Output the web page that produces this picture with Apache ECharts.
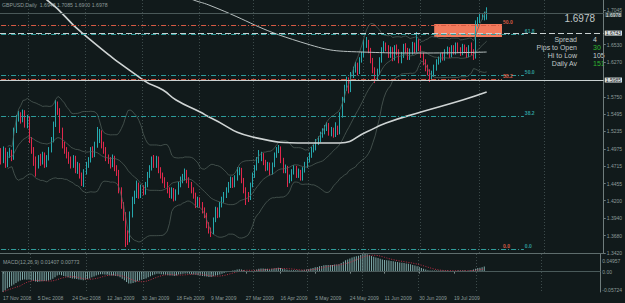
<!DOCTYPE html>
<html><head><meta charset="utf-8">
<script src="https://cdn.jsdelivr.net/npm/echarts@6/dist/echarts.min.js"></script>
<style>html,body{margin:0;padding:0;background:#111a1b;}#c{width:625px;height:303px;}</style>
</head><body><div id="c"></div>
<script>
// ---------- data ----------
const symbolTitle = 'GBPUSD,Daily';
const dateLabels = ['17 Nov 2008','5 Dec 2008','24 Dec 2008','12 Jan 2009','30 Jan 2009','18 Feb 2009','9 Mar 2009','27 Mar 2009','16 Apr 2009','5 May 2009','24 May 2009','11 Jun 2009','30 Jun 2009','19 Jul 2009'];
const dateLabelIdx = [0,16,32,48,64,80,96,112,128,144,160,176,192,208];
const monthStartIdx = [13,39,65,91,116,141,166,192,219,249];
const slotCount = 276;
const priceTicks = [1.7045,1.6530,1.6270,1.5750,1.5495,1.5235,1.4975,1.4715,1.4455,1.4200,1.3940,1.3680,1.3420];
const macdTicks = [-0.05724,0,0.04957];
// [open, high, low, close]
const ohlc = [
[1.4900,1.4985,1.4740,1.4807],[1.4807,1.5010,1.4760,1.4956],[1.4956,1.4990,1.4690,1.4732],[1.4732,1.4930,1.4700,1.4882],[1.4882,1.4990,1.4840,1.4926],
[1.4926,1.4960,1.4790,1.4837],[1.4837,1.5290,1.4810,1.5255],[1.5255,1.5480,1.5210,1.5434],[1.5434,1.5540,1.5380,1.5478],[1.5478,1.5520,1.5350,1.5404],
[1.5404,1.5560,1.5370,1.5523],[1.5523,1.5550,1.5290,1.5329],[1.5329,1.5480,1.5280,1.5434],[1.5434,1.5460,1.5060,1.5105],[1.5105,1.5150,1.4900,1.4956],
[1.4956,1.5000,1.4720,1.4807],[1.4807,1.4860,1.4560,1.4732],[1.4732,1.4880,1.4680,1.4837],[1.4837,1.4900,1.4720,1.4777],[1.4777,1.4930,1.4740,1.4882],
[1.4882,1.4920,1.4690,1.4732],[1.4732,1.4880,1.4700,1.4837],[1.4837,1.5000,1.4800,1.4956],[1.4956,1.5150,1.4920,1.5105],[1.5105,1.5380,1.5070,1.5329],
[1.5329,1.5702,1.5300,1.5628],[1.5628,1.5680,1.5480,1.5553],[1.5553,1.5580,1.5210,1.5255],[1.5255,1.5290,1.4980,1.5031],[1.5031,1.5080,1.4900,1.4956],
[1.4956,1.5000,1.4830,1.4882],[1.4882,1.4930,1.4750,1.4807],[1.4807,1.4860,1.4680,1.4732],[1.4732,1.4880,1.4690,1.4837],[1.4837,1.4870,1.4610,1.4658],
[1.4658,1.4780,1.4600,1.4732],[1.4732,1.4760,1.4530,1.4583],[1.4583,1.4620,1.4420,1.4509],[1.4509,1.4670,1.4404,1.4628],[1.4628,1.4780,1.4590,1.4732],
[1.4732,1.4850,1.4690,1.4807],[1.4807,1.5000,1.4770,1.4956],[1.4956,1.5010,1.4840,1.4882],[1.4882,1.5080,1.4850,1.5031],[1.5031,1.5300,1.4990,1.5105],
[1.5105,1.5270,1.5060,1.5225],[1.5225,1.5250,1.4980,1.5031],[1.5031,1.5080,1.4900,1.4956],[1.4956,1.5000,1.4790,1.4837],[1.4837,1.4890,1.4750,1.4807],
[1.4807,1.4850,1.4680,1.4732],[1.4732,1.4890,1.4700,1.4837],[1.4837,1.4870,1.4640,1.4688],[1.4688,1.4730,1.4570,1.4628],[1.4628,1.4660,1.4310,1.4359],
[1.4359,1.4400,1.4080,1.4136],[1.4136,1.4180,1.3900,1.3986],[1.3986,1.4030,1.3509,1.3688],[1.3688,1.3760,1.3540,1.3613],[1.3613,1.4040,1.3580,1.3986],
[1.3986,1.4260,1.3950,1.4210],[1.4210,1.4350,1.4150,1.4285],[1.4285,1.4500,1.4240,1.4434],[1.4434,1.4470,1.4230,1.4285],[1.4285,1.4440,1.4240,1.4389],
[1.4389,1.4430,1.4280,1.4330],[1.4330,1.4480,1.4290,1.4434],[1.4434,1.4630,1.4400,1.4583],[1.4583,1.4730,1.4540,1.4688],[1.4688,1.4860,1.4650,1.4807],
[1.4807,1.4882,1.4690,1.4732],[1.4732,1.4870,1.4690,1.4837],[1.4837,1.4860,1.4610,1.4658],[1.4658,1.4700,1.4530,1.4583],[1.4583,1.4620,1.4460,1.4509],
[1.4509,1.4550,1.4390,1.4434],[1.4434,1.4480,1.4310,1.4359],[1.4359,1.4400,1.4240,1.4285],[1.4285,1.4400,1.4230,1.4359],[1.4359,1.4390,1.4190,1.4240],
[1.4240,1.4370,1.4200,1.4330],[1.4330,1.4480,1.4290,1.4434],[1.4434,1.4560,1.4400,1.4509],[1.4509,1.4600,1.4460,1.4538],[1.4538,1.4680,1.4500,1.4628],
[1.4628,1.4660,1.4460,1.4509],[1.4509,1.4550,1.4390,1.4434],[1.4434,1.4480,1.4310,1.4359],[1.4359,1.4400,1.4230,1.4285],[1.4285,1.4320,1.4090,1.4136],
[1.4136,1.4260,1.4100,1.4210],[1.4210,1.4250,1.4090,1.4136],[1.4136,1.4180,1.4010,1.4061],[1.4061,1.4100,1.3940,1.3986],[1.3986,1.4020,1.3790,1.3837],
[1.3837,1.3880,1.3710,1.3763],[1.3763,1.3800,1.3658,1.3733],[1.3733,1.3950,1.3700,1.3912],[1.3912,1.4110,1.3880,1.4061],[1.4061,1.4100,1.3940,1.3986],
[1.3986,1.4180,1.3950,1.4136],[1.4136,1.4260,1.4100,1.4210],[1.4210,1.4330,1.4170,1.4285],[1.4285,1.4400,1.4240,1.4359],[1.4359,1.4480,1.4320,1.4434],
[1.4434,1.4560,1.4390,1.4509],[1.4509,1.4550,1.4390,1.4434],[1.4434,1.4580,1.4400,1.4538],[1.4538,1.4700,1.4500,1.4628],[1.4628,1.4700,1.4580,1.4658],
[1.4658,1.4690,1.4460,1.4509],[1.4509,1.4540,1.4310,1.4359],[1.4359,1.4400,1.4136,1.4285],[1.4285,1.4330,1.4180,1.4240],[1.4240,1.4470,1.4210,1.4434],
[1.4434,1.4620,1.4400,1.4583],[1.4583,1.4730,1.4540,1.4688],[1.4688,1.4850,1.4650,1.4807],[1.4807,1.4956,1.4760,1.4837],[1.4837,1.4930,1.4790,1.4882],
[1.4882,1.4910,1.4730,1.4777],[1.4777,1.4810,1.4640,1.4688],[1.4688,1.4780,1.4650,1.4732],[1.4732,1.4770,1.4580,1.4628],[1.4628,1.4770,1.4590,1.4732],
[1.4732,1.4920,1.4700,1.4882],[1.4882,1.5000,1.4840,1.4956],[1.4956,1.5031,1.4910,1.4986],[1.4986,1.5010,1.4760,1.4807],[1.4807,1.4840,1.4610,1.4658],
[1.4658,1.4740,1.4610,1.4688],[1.4688,1.4720,1.4404,1.4509],[1.4509,1.4590,1.4460,1.4538],[1.4538,1.4670,1.4490,1.4628],[1.4628,1.4730,1.4590,1.4688],
[1.4688,1.4720,1.4540,1.4583],[1.4583,1.4680,1.4540,1.4628],[1.4628,1.4660,1.4500,1.4538],[1.4538,1.4700,1.4500,1.4658],[1.4658,1.4780,1.4620,1.4732],
[1.4732,1.4850,1.4690,1.4807],[1.4807,1.4920,1.4770,1.4882],[1.4882,1.5000,1.4840,1.4956],[1.4956,1.5040,1.4920,1.4986],[1.4986,1.5120,1.4950,1.5075],
[1.5075,1.5160,1.5030,1.5105],[1.5105,1.5230,1.5070,1.5180],[1.5180,1.5280,1.5140,1.5225],[1.5225,1.5330,1.5190,1.5285],[1.5285,1.5370,1.5240,1.5329],
[1.5329,1.5360,1.5170,1.5210],[1.5210,1.5300,1.5160,1.5255],[1.5255,1.5290,1.5140,1.5180],[1.5180,1.5370,1.5150,1.5285],[1.5285,1.5320,1.5180,1.5225],
[1.5225,1.5520,1.5190,1.5478],[1.5478,1.5750,1.5440,1.5702],[1.5702,1.5930,1.5660,1.5881],[1.5881,1.6050,1.5840,1.6000],[1.6000,1.6040,1.5800,1.5851],
[1.5851,1.6120,1.5820,1.6075],[1.6075,1.6200,1.6030,1.6150],[1.6150,1.6270,1.6110,1.6224],[1.6224,1.6260,1.6070,1.6120],[1.6120,1.6340,1.6090,1.6299],
[1.6299,1.6420,1.6260,1.6373],[1.6373,1.6600,1.6340,1.6523],[1.6523,1.6642,1.6480,1.6567],[1.6567,1.6600,1.6400,1.6448],[1.6448,1.6480,1.6250,1.6299],
[1.6299,1.6330,1.6100,1.6150],[1.6150,1.6190,1.5955,1.6030],[1.6030,1.6170,1.5990,1.6120],[1.6120,1.6340,1.6080,1.6299],[1.6299,1.6490,1.6260,1.6448],
[1.6448,1.6580,1.6410,1.6523],[1.6523,1.6560,1.6430,1.6478],[1.6478,1.6520,1.6330,1.6373],[1.6373,1.6500,1.6330,1.6448],[1.6448,1.6490,1.6280,1.6329],
[1.6329,1.6520,1.6290,1.6478],[1.6478,1.6530,1.6370,1.6418],[1.6418,1.6460,1.6250,1.6299],[1.6299,1.6420,1.6250,1.6373],[1.6373,1.6540,1.6330,1.6493],
[1.6493,1.6550,1.6400,1.6448],[1.6448,1.6480,1.6300,1.6344],[1.6344,1.6470,1.6300,1.6418],[1.6418,1.6570,1.6380,1.6523],[1.6523,1.6560,1.6400,1.6448],
[1.6448,1.6717,1.6410,1.6567],[1.6567,1.6610,1.6430,1.6478],[1.6478,1.6510,1.6330,1.6373],[1.6373,1.6410,1.6220,1.6269],[1.6269,1.6310,1.6130,1.6180],
[1.6180,1.6230,1.6070,1.6120],[1.6120,1.6160,1.5970,1.6030],[1.6030,1.6140,1.5990,1.6090],[1.6090,1.6230,1.6050,1.6180],[1.6180,1.6310,1.6140,1.6269],
[1.6269,1.6350,1.6230,1.6299],[1.6299,1.6400,1.6260,1.6359],[1.6359,1.6410,1.6290,1.6329],[1.6329,1.6460,1.6290,1.6418],[1.6418,1.6500,1.6380,1.6448],
[1.6448,1.6490,1.6330,1.6373],[1.6373,1.6520,1.6340,1.6478],[1.6478,1.6520,1.6380,1.6418],[1.6418,1.6560,1.6380,1.6523],[1.6523,1.6560,1.6400,1.6448],
[1.6448,1.6490,1.6360,1.6403],[1.6403,1.6540,1.6370,1.6493],[1.6493,1.6530,1.6400,1.6448],[1.6448,1.6490,1.6330,1.6373],[1.6373,1.6520,1.6340,1.6478],
[1.6478,1.6560,1.6370,1.6418],[1.6418,1.6460,1.6300,1.6344],[1.6344,1.6890,1.6320,1.6851],[1.6851,1.6940,1.6800,1.6896],[1.6896,1.6990,1.6850,1.6930],
[1.6930,1.6980,1.6900,1.6940],[1.6940,1.7020,1.6890,1.6948],[1.6948,1.7085,1.6900,1.6978]
];
// MACD(12,26,9) main values
const macdMain = [
-0.0572,-0.0520,-0.0470,-0.0430,-0.0400,-0.0360,-0.0320,-0.0280,-0.0250,-0.0230,
-0.0220,-0.0230,-0.0220,-0.0240,-0.0260,-0.0280,-0.0290,-0.0280,-0.0270,-0.0260,
-0.0260,-0.0250,-0.0230,-0.0200,-0.0160,-0.0110,-0.0090,-0.0100,-0.0120,-0.0140,
-0.0160,-0.0180,-0.0190,-0.0200,-0.0210,-0.0220,-0.0230,-0.0240,-0.0230,-0.0210,
-0.0190,-0.0160,-0.0140,-0.0110,-0.0090,-0.0070,-0.0070,-0.0080,-0.0090,-0.0100,
-0.0110,-0.0110,-0.0120,-0.0130,-0.0160,-0.0200,-0.0240,-0.0290,-0.0330,-0.0330,
-0.0320,-0.0300,-0.0270,-0.0250,-0.0230,-0.0210,-0.0190,-0.0160,-0.0130,-0.0100,
-0.0080,-0.0060,-0.0060,-0.0070,-0.0080,-0.0090,-0.0100,-0.0110,-0.0110,-0.0120,
-0.0110,-0.0080,-0.0070,-0.0060,-0.0050,-0.0050,-0.0060,-0.0070,-0.0080,-0.0090,
-0.0100,-0.0110,-0.0120,-0.0130,-0.0140,-0.0150,-0.0150,-0.0130,-0.0110,-0.0100,
-0.0080,-0.0060,-0.0040,-0.0020,0.0000,0.0020,0.0030,0.0040,0.0060,0.0070,
0.0060,0.0040,0.0020,0.0010,0.0010,0.0020,0.0040,0.0060,0.0080,0.0090,
0.0090,0.0080,0.0080,0.0070,0.0080,0.0090,0.0100,0.0110,0.0100,0.0080,
0.0070,0.0050,0.0040,0.0040,0.0040,0.0040,0.0040,0.0030,0.0040,0.0050,
0.0060,0.0070,0.0090,0.0100,0.0120,0.0130,0.0150,0.0160,0.0180,0.0190,
0.0190,0.0190,0.0190,0.0200,0.0200,0.0210,0.0240,0.0280,0.0320,0.0340,
0.0370,0.0400,0.0420,0.0430,0.0450,0.0470,0.0490,0.0496,0.0490,0.0470,
0.0440,0.0420,0.0400,0.0380,0.0360,0.0340,0.0330,0.0320,0.0310,0.0300,
0.0290,0.0280,0.0270,0.0260,0.0250,0.0240,0.0230,0.0220,0.0210,0.0190,
0.0170,0.0150,0.0130,0.0100,0.0080,0.0060,0.0040,0.0030,0.0030,0.0030,
0.0030,0.0030,0.0030,0.0030,0.0030,0.0030,0.0020,0.0020,0.0020,0.0020,
0.0030,0.0030,0.0030,0.0030,0.0020,0.0030,0.0030,0.0060,0.0080,0.0100,
0.0110,0.0120,0.0141
];
const macdLegendValues = ['0.01407','0.00773'];
// long moving averages (read at sparse bars)
const maSlowIdx = [0,21,37,65,74,80,91,96,115,140,155,167,176,192,211,222];
const maSlowVal = [1.7600,1.7194,1.6702,1.6000,1.5851,1.5702,1.5523,1.5434,1.5150,1.5061,1.5061,1.5225,1.5359,1.5523,1.5702,1.5821];
const maLongIdx = [80,88,95,137,165,192,222];
const maLongVal = [1.7300,1.7194,1.7119,1.6567,1.6418,1.6403,1.6418];
// fibonacci levels
const fibRed = {endIdx:229, levels:[['50.0',1.6821],['38.2',1.6015],['0.0',1.3479]]};
const fibTeal = {endIdx:239, levels:[['61.8',1.6687],['50.0',1.6075],['38.2',1.5463],['0.0',1.3479]]};
const zone = {fromIdx:198, toIdx:229, top:1.6836, bottom:1.6642};
const hLineDashed = 1.6743;
const hLineSolid = 1.5985;
const bidPrice = 1.6978;
const infoBig = '1.6978';
const infoRows = [['Spread','4'],['Pips to Open','30'],['Hi to Low','105'],['Daily Av','151']];
const infoValueColors = ['#c8d0d0','#2fb52f','#c8d0d0','#2fb52f'];

// ---------- build ----------
const categories = [];
for (let i = 0; i < slotCount; i++) categories.push(String(i));
const closes = ohlc.map(r => r[3]);
const candleData = ohlc.map(r => [r[0], r[3], r[2], r[1]]);
function sparse(idx, val) { const a = new Array(ohlc.length).fill(null); idx.forEach((k, j) => a[k] = val[j]); return a; }
const bbU = [], bbM = [], bbL = [];
for (let i = 0; i < closes.length; i++) {
  const w = closes.slice(Math.max(0, i - 19), i + 1);
  if (w.length < 4) { bbU.push(null); bbM.push(null); bbL.push(null); continue; }
  const m = w.reduce((a, b) => a + b, 0) / w.length;
  const sd = Math.sqrt(w.reduce((a, b) => a + (b - m) * (b - m), 0) / w.length);
  bbU.push(m + 2 * sd); bbM.push(m); bbL.push(m - 2 * sd);
}
const macdSignal = macdMain.map((v, i) => { const w = macdMain.slice(Math.max(0, i - 8), i + 1); return w.reduce((a, b) => a + b, 0) / w.length; });

const FONT = 'Liberation Sans';
const txtCol = '#8d9a9a';
const dashDot = [5, 2, 1, 2];
function fibLines(f, color) {
  return f.levels.map(([lab, p]) => [
    { coord: [0, p], lineStyle: { color: color, type: dashDot, width: 1 },
      label: { show: true, position: 'end', formatter: lab, color: color, fontSize: 5, fontFamily: FONT, fontWeight: 'bold', distance: 1, offset: [0, -3] } },
    { coord: [f.endIdx, p] }
  ]);
}
function boxLine(p, lineColor, type, bg, fg, dy) {
  return { yAxis: p, lineStyle: { color: lineColor, type: type, width: 1 },
    label: { show: true, position: 'end', formatter: p.toFixed(4), backgroundColor: bg, color: fg, fontSize: 5, lineHeight: 5, fontFamily: FONT, padding: [0, 1, 0, 1], distance: 1, offset: [0, dy] } };
}
const last = ohlc[ohlc.length - 1];
const titleText = symbolTitle + '  ' + last.map(v => v.toFixed(4)).join(' ');

const graphics = [
  { type: 'text', left: 2, top: 2, style: { text: titleText, fill: txtCol, font: '5.2px ' + FONT } },
  { type: 'text', left: 3, top: 259, style: { text: 'MACD(12,26,9) ' + macdLegendValues.join(' '), fill: txtCol, font: '5.2px ' + FONT } },
  { type: 'text', right: 30, top: 13, style: { text: infoBig, fill: '#c0c8c8', font: '10px ' + FONT, align: 'right' } }
];
infoRows.forEach((r, k) => {
  graphics.push({ type: 'text', x: 577, y: 39 + k * 8.3, style: { text: r[0], fill: '#c0c8c8', font: '7px ' + FONT, textAlign: 'right', textVerticalAlign: 'middle' } });
  graphics.push({ type: 'text', x: 593, y: 39 + k * 8.3, style: { text: r[1], fill: infoValueColors[k], font: '7px ' + FONT, textAlign: 'left', textVerticalAlign: 'middle' } });
});

const gridLineStyle = { show: true, interval: (i) => monthStartIdx.includes(i), lineStyle: { color: '#3c4a4a', type: [1, 2], width: 1 } };
const chart = echarts.init(document.getElementById('c'), null, { renderer: 'svg' });
chart.setOption({
  backgroundColor: '#111a1b',
  animation: false,
  grid: [
    { left: 0, top: 0, width: 604, height: 253 },
    { left: 0, top: 254, width: 604, height: 38 }
  ],
  xAxis: [
    { type: 'category', gridIndex: 0, data: categories, boundaryGap: true,
      axisLine: { show: true, lineStyle: { color: '#5f6d6d' } }, axisTick: { show: false }, axisLabel: { show: false },
      splitLine: gridLineStyle },
    { type: 'category', gridIndex: 1, data: categories, boundaryGap: true,
      axisLine: { show: true, lineStyle: { color: '#5f6d6d' } },
      axisTick: { show: true, alignWithLabel: true, interval: (i) => dateLabelIdx.includes(i), length: 2, lineStyle: { color: '#7a8888' } },
      axisLabel: { show: true, interval: (i) => dateLabelIdx.includes(i), formatter: (v, i) => { const k = dateLabelIdx.indexOf(i); return k >= 0 ? dateLabels[k] : ''; },
        align: 'left', margin: 3, color: txtCol, fontSize: 5, fontFamily: FONT },
      splitLine: gridLineStyle }
  ],
  yAxis: [
    { type: 'value', gridIndex: 0, position: 'right', min: 1.3420, max: 1.7194, scale: true,
      axisLine: { show: true, lineStyle: { color: '#6f7c7c' } },
      axisTick: { show: true, length: 2, customValues: priceTicks, lineStyle: { color: '#6f7c7c' } },
      axisLabel: { customValues: priceTicks, formatter: v => v.toFixed(4), color: txtCol, fontSize: 5, lineHeight: 5, fontFamily: FONT, margin: 3 },
      splitLine: { show: false } },
    { type: 'value', gridIndex: 1, position: 'right', min: macdTicks[0], max: macdTicks[2],
      axisLine: { show: true, lineStyle: { color: '#6f7c7c' } },
      axisTick: { show: false },
      axisLabel: { customValues: macdTicks,
        formatter: v => v === 0 ? '0.00' : (v > 0 ? '{top|' + v.toFixed(5) + '}' : v.toFixed(5)),
        rich: { top: { padding: [4, 0, 0, 0], fontSize: 5, color: txtCol, fontFamily: FONT } },
        color: txtCol, fontSize: 5, fontFamily: FONT, margin: 2,
        verticalAlignMaxLabel: 'top', verticalAlignMinLabel: 'bottom' },
      splitLine: { show: false } }
  ],
  series: [
    { type: 'line', xAxisIndex: 0, yAxisIndex: 0, data: bbU, showSymbol: false, lineStyle: { color: '#56645f', width: 0.7 }, silent: true },
    { type: 'line', xAxisIndex: 0, yAxisIndex: 0, data: bbM, showSymbol: false, lineStyle: { color: '#56645f', width: 0.7 }, silent: true },
    { type: 'line', xAxisIndex: 0, yAxisIndex: 0, data: bbL, showSymbol: false, lineStyle: { color: '#56645f', width: 0.7 }, silent: true },
    { type: 'line', xAxisIndex: 0, yAxisIndex: 0, data: sparse(maLongIdx, maLongVal), connectNulls: true, smooth: true, showSymbol: false, lineStyle: { color: '#b8c0c0', width: 1 }, silent: true },
    { type: 'line', xAxisIndex: 0, yAxisIndex: 0, data: sparse(maSlowIdx, maSlowVal), connectNulls: true, smooth: true, showSymbol: false, lineStyle: { color: '#cfd4d4', width: 1.6 }, silent: true },
    { type: 'candlestick', xAxisIndex: 0, yAxisIndex: 0, data: candleData, barWidth: 1,
      itemStyle: { color: '#26a8ad', color0: '#e0284c', borderColor: '#26a8ad', borderColor0: '#e0284c', borderWidth: 1 },
      markArea: { silent: true, itemStyle: { color: '#f27a5c', opacity: 1 },
        data: [[{ coord: [zone.fromIdx, zone.top] }, { coord: [zone.toIdx, zone.bottom] }]] },
      markLine: { silent: true, symbol: ['none', 'none'], animation: false,
        data: [].concat(fibLines(fibRed, '#d65a44'), fibLines(fibTeal, '#2e9c9c'), [
          boxLine(bidPrice, '#4a5858', 'solid', '#3d4b4b', '#e0e6e6', 1.5),
          boxLine(hLineDashed, '#c9d1d1', [6, 3], '#d8dede', '#1a2424', 0),
          boxLine(hLineSolid, '#c9d1d1', 'solid', '#d8dede', '#1a2424', 0)
        ]) } },
    { type: 'bar', xAxisIndex: 1, yAxisIndex: 1, data: macdMain, barWidth: 1, itemStyle: { color: '#7fa9a9' }, silent: true,
      markLine: { silent: true, symbol: ['none', 'none'], label: { show: false }, lineStyle: { color: '#4a5a5a', type: 'solid', width: 1 }, data: [{ yAxis: 0 }] } },
    { type: 'line', xAxisIndex: 1, yAxisIndex: 1, data: macdSignal, showSymbol: false, lineStyle: { color: '#c03048', width: 1, type: [1, 1.5] }, silent: true }
  ],
  graphic: graphics
});
</script></body></html>
